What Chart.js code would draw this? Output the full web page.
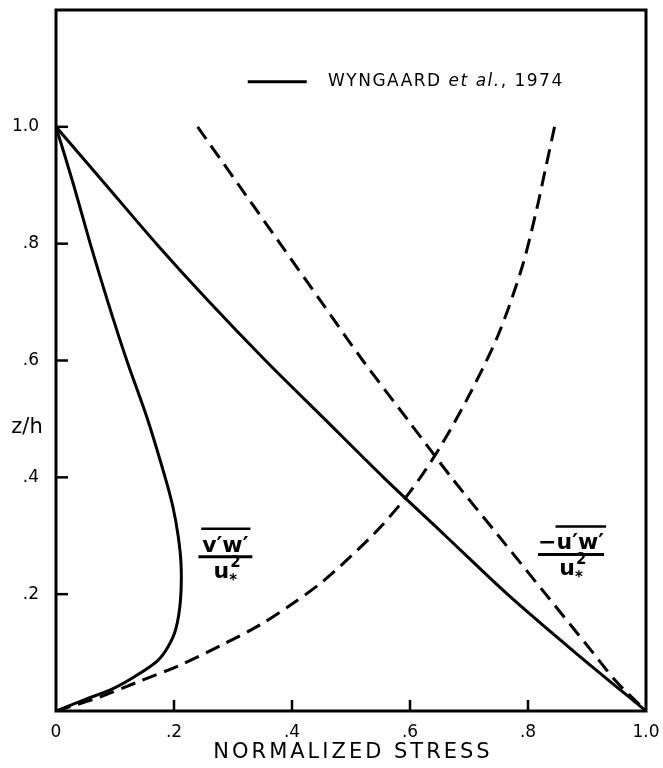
<!DOCTYPE html>
<html><head><meta charset="utf-8">
<script src="https://cdn.jsdelivr.net/npm/chart.js@4"></script>
<style>html,body{margin:0;padding:0;background:#fff;}#wrap{width:663px;height:768px;position:relative;}</style>
</head><body><div id="wrap"><canvas id="c" width="663" height="768"></canvas></div>
<script>
// ---- tick labels ----
const xTickValues = [0, 0.2, 0.4, 0.6, 0.8, 1.0];
const xTickLabels = ['0', '.2', '.4', '.6', '.8', '1.0'];
const yTickValues = [0.2, 0.4, 0.6, 0.8, 1.0];
const yTickLabels = ['.2', '.4', '.6', '.8', '1.0'];
const xTitle = 'NORMALIZED STRESS';
const yTitle = 'z/h';
const legendLabel = ['WYNGAARD ', 'et al.', ', 1974'];

// ---- series (z = height, s = normalized stress) ----
// solid -u'w'/u*^2 (Wyngaard et al., 1974)
const uwSolidZ = [1.0, 0.9, 0.8, 0.7, 0.6, 0.5, 0.4, 0.3, 0.2, 0.1, 0];
const uwSolidS = [0, 0.085, 0.17, 0.26, 0.355, 0.455, 0.555, 0.66, 0.765, 0.88, 1.0];
// solid v'w'/u*^2 (Wyngaard et al., 1974)
const vwSolidZ = [1.0, 0.9, 0.8, 0.7, 0.6, 0.5, 0.4, 0.35, 0.3, 0.25, 0.19, 0.14, 0.11, 0.086, 0.06, 0.037, 0.02, 0];
const vwSolidS = [0, 0.03, 0.058, 0.088, 0.12, 0.155, 0.185, 0.198, 0.207, 0.212, 0.211, 0.203, 0.19, 0.172, 0.135, 0.094, 0.05, 0];
// dashed -u'w'/u*^2
const uwDashZ = [1.0, 0.9, 0.8, 0.7, 0.6, 0.5, 0.4, 0.3, 0.2, 0.1, 0.05, 0];
const uwDashS = [0.24, 0.31, 0.38, 0.45, 0.52, 0.595, 0.67, 0.75, 0.83, 0.91, 0.95, 1.0];
// dashed v'w'/u*^2
const vwDashZ = [0, 0.023, 0.049, 0.078, 0.113, 0.147, 0.183, 0.22, 0.265, 0.315, 0.375, 0.45, 0.54, 0.645, 0.76, 0.86, 0.93, 1.0];
const vwDashS = [0, 0.072, 0.137, 0.209, 0.281, 0.345, 0.40, 0.45, 0.50, 0.55, 0.60, 0.65, 0.70, 0.75, 0.79, 0.815, 0.83, 0.845];

const pts = (S, Z) => S.map((s, i) => ({x: s, y: Z[i]}));
const FONT = '"DejaVu Sans", sans-serif';

function ds(S, Z, dashed) {
  return {data: pts(S, Z), showLine: true, pointRadius: 0, borderColor: '#000',
    borderWidth: 3, borderDash: dashed ? [15, 8] : [], tension: 0.3, fill: false};
}

function drawFraction(ctx, cx, barY, numPrefix, num, barHalf) {
  ctx.save();
  ctx.fillStyle = '#000'; ctx.strokeStyle = '#000';
  ctx.font = 'bold 22px ' + FONT;
  ctx.textBaseline = 'alphabetic'; ctx.textAlign = 'left';
  const wPre = numPrefix ? ctx.measureText(numPrefix).width : 0;
  const wNum = ctx.measureText(num).width;
  const total = wPre + wNum;
  let x0 = cx - total / 2;
  if (numPrefix) ctx.fillText(numPrefix, x0, barY - 5);
  ctx.fillText(num, x0 + wPre, barY - 5);
  ctx.lineWidth = 2.5;
  ctx.beginPath(); ctx.moveTo(x0 + wPre - 1, barY - 28); ctx.lineTo(x0 + total + 2, barY - 28); ctx.stroke();
  ctx.lineWidth = 3;
  ctx.beginPath(); ctx.moveTo(cx - barHalf, barY); ctx.lineTo(cx + barHalf, barY); ctx.stroke();
  ctx.font = 'bold 22px ' + FONT;
  const wu = ctx.measureText('u').width;
  ctx.font = 'bold 15px ' + FONT;
  const ws = ctx.measureText('*').width;
  const dx = cx - (wu + ws) / 2;
  ctx.font = 'bold 22px ' + FONT;
  ctx.fillText('u', dx, barY + 21);
  ctx.font = 'bold 15px ' + FONT;
  ctx.fillText('*', dx + wu, barY + 28);
  ctx.fillText('2', dx + wu + 1, barY + 10);
  ctx.restore();
}

const notes = {
  id: 'notes',
  afterDatasetsDraw(chart) {
    const {ctx, chartArea: a, scales: {x, y}} = chart;
    ctx.save();
    ctx.strokeStyle = '#000'; ctx.fillStyle = '#000';
    ctx.lineWidth = 3;
    ctx.strokeRect(a.left, a.top, a.right - a.left, a.bottom - a.top);
    ctx.lineWidth = 2.5;
    xTickValues.forEach(v => {
      if (v > 0 && v < 1) {
        const px = x.getPixelForValue(v);
        ctx.beginPath(); ctx.moveTo(px, a.bottom); ctx.lineTo(px, a.bottom - 11); ctx.stroke();
      }
    });
    yTickValues.forEach(v => {
      const py = y.getPixelForValue(v);
      ctx.beginPath(); ctx.moveTo(a.left, py); ctx.lineTo(a.left + 12, py); ctx.stroke();
    });
    // y title (horizontal)
    ctx.font = '21px ' + FONT; ctx.textAlign = 'center'; ctx.textBaseline = 'middle';
    ctx.fillText(yTitle, 27, y.getPixelForValue(0.485));
    // x title
    ctx.save();
    ctx.font = '21px ' + FONT;
    ctx.letterSpacing = '3px';
    ctx.textAlign = 'center'; ctx.textBaseline = 'middle';
    ctx.fillText(xTitle, (a.left + a.right) / 2 + 2, 753);
    ctx.restore();
    // legend
    const ly = y.getPixelForValue(1.077);
    ctx.lineWidth = 3;
    ctx.beginPath(); ctx.moveTo(x.getPixelForValue(0.325), ly); ctx.lineTo(x.getPixelForValue(0.425), ly); ctx.stroke();
    let tx = x.getPixelForValue(0.461);
    ctx.textAlign = 'left';
    ctx.letterSpacing = '1.5px';
    ctx.font = '17px ' + FONT; ctx.fillText(legendLabel[0], tx, ly); tx += ctx.measureText(legendLabel[0]).width;
    ctx.font = 'italic 17px ' + FONT; ctx.fillText(legendLabel[1], tx, ly); tx += ctx.measureText(legendLabel[1]).width;
    ctx.font = '17px ' + FONT; ctx.fillText(legendLabel[2], tx, ly);
    ctx.letterSpacing = '0px';
    ctx.restore();
    drawFraction(ctx, x.getPixelForValue(0.287), y.getPixelForValue(0.264), '', 'v\u2032w\u2032', 27);
    drawFraction(ctx, x.getPixelForValue(0.873), y.getPixelForValue(0.268), '\u2212', 'u\u2032w\u2032', 33);
  }
};

function zeroPad(s) { s.paddingTop = 0; s.paddingBottom = 0; s.paddingLeft = 0; s.paddingRight = 0; }

new Chart(document.getElementById('c'), {
  type: 'scatter',
  data: {datasets: [
    ds(uwSolidS, uwSolidZ, false),
    ds(vwSolidS, vwSolidZ, false),
    ds(uwDashS, uwDashZ, true),
    ds(vwDashS, vwDashZ, true)
  ]},
  options: {
    responsive: false, animation: false, devicePixelRatio: 1,
    layout: {padding: {top: 10, right: 17, bottom: 0, left: 0}},
    plugins: {legend: {display: false}, tooltip: {enabled: false}},
    scales: {
      x: {type: 'linear', min: 0, max: 1,
        afterBuildTicks: s => { s.ticks = xTickValues.map(v => ({value: v})); },
        afterFit: s => { s.height = 57; zeroPad(s); },
        grid: {display: false}, border: {display: false},
        ticks: {color: '#000', font: {family: FONT, size: 17}, padding: 3, maxRotation: 0,
          callback: v => xTickLabels[xTickValues.indexOf(v)] ?? ''}
      },
      y: {type: 'linear', min: 0, max: 1.2,
        afterBuildTicks: s => { s.ticks = yTickValues.map(v => ({value: v})); },
        afterFit: s => { s.width = 56; zeroPad(s); },
        grid: {display: false}, border: {display: false},
        ticks: {color: '#000', font: {family: FONT, size: 17}, padding: 9,
          callback: v => yTickLabels[yTickValues.indexOf(v)] ?? ''}
      }
    }
  },
  plugins: [notes]
});
</script></body></html>
